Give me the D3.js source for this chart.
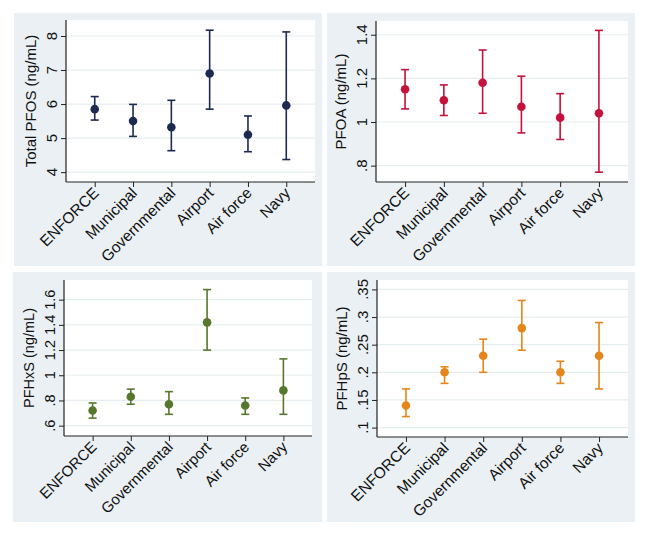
<!DOCTYPE html>
<html>
<head>
<meta charset="utf-8">
<script src="https://cdn.jsdelivr.net/npm/d3@7"></script>
<style>
  body { margin: 0; background: #fff; }
  svg { display: block; font-family: "Liberation Sans", Arial, sans-serif; }
</style>
</head>
<body>
<div id="chart"></div>
<script>
// categories shared by every panel
const categories = ["ENFORCE", "Municipal", "Governmental", "Airport", "Air force", "Navy"];

// Total PFOS
const pfosMean = [5.85, 5.50, 5.32, 6.90, 5.10, 5.96];
const pfosLow  = [5.53, 5.05, 4.63, 5.85, 4.60, 4.37];
const pfosHigh = [6.22, 5.99, 6.11, 8.17, 5.65, 8.12];
const pfosTicks = [4, 5, 6, 7, 8];

// PFOA
const pfoaMean = [1.15, 1.10, 1.18, 1.07, 1.02, 1.04];
const pfoaLow  = [1.06, 1.03, 1.04, 0.95, 0.92, 0.77];
const pfoaHigh = [1.24, 1.17, 1.33, 1.21, 1.13, 1.42];
const pfoaTicks = [0.8, 1, 1.2, 1.4];

// PFHxS
const pfhxsMean = [0.72, 0.83, 0.77, 1.42, 0.76, 0.88];
const pfhxsLow  = [0.66, 0.77, 0.69, 1.20, 0.69, 0.69];
const pfhxsHigh = [0.78, 0.89, 0.87, 1.68, 0.82, 1.13];
const pfhxsTicks = [0.6, 0.8, 1, 1.2, 1.4, 1.6];

// PFHpS
const pfhpsMean = [0.14, 0.20, 0.23, 0.28, 0.20, 0.23];
const pfhpsLow  = [0.12, 0.18, 0.20, 0.24, 0.18, 0.17];
const pfhpsHigh = [0.17, 0.21, 0.26, 0.33, 0.22, 0.29];
const pfhpsTicks = [0.1, 0.15, 0.2, 0.25, 0.3, 0.35];

const panels = [
  {title: "Total PFOS (ng/mL)", mean: pfosMean, low: pfosLow, high: pfosHigh, ticks: pfosTicks,
   domain: [3.71, 8.47], color: "#1d2a50", fs: 15.5,
   box: {x: 14, y: 13, w: 308, h: 253}, plot: {x: 66, y: 20, w: 249, h: 162}},
  {title: "PFOA (ng/mL)", mean: pfoaMean, low: pfoaLow, high: pfoaHigh, ticks: pfoaTicks,
   domain: [0.725, 1.463], color: "#c4123c", fs: 15.5,
   box: {x: 327, y: 13, w: 308, h: 253}, plot: {x: 376, y: 21, w: 252, h: 161}},
  {title: "PFHxS (ng/mL)", mean: pfhxsMean, low: pfhxsLow, high: pfhxsHigh, ticks: pfhxsTicks,
   domain: [0.518, 1.756], color: "#56782c", fs: 15,
   box: {x: 13, y: 272, w: 309, h: 250}, plot: {x: 64, y: 280, w: 248, h: 156}},
  {title: "PFHpS (ng/mL)", mean: pfhpsMean, low: pfhpsLow, high: pfhpsHigh, ticks: pfhpsTicks,
   domain: [0.083, 0.367], color: "#e5861c", fs: 15.5,
   box: {x: 327, y: 272, w: 308, h: 250}, plot: {x: 377, y: 280, w: 251, h: 157}}
];

// Stata style: drop leading zero
const fmt = v => String(+v.toFixed(2)).replace(/^0\./, ".");

const svg = d3.select("#chart").append("svg")
  .attr("width", 652)
  .attr("height", 535);

panels.forEach(p => {
  const g = svg.append("g");

  g.append("rect")
    .attr("x", p.box.x).attr("y", p.box.y)
    .attr("width", p.box.w).attr("height", p.box.h)
    .attr("fill", "#eaf0f3");

  g.append("rect")
    .attr("x", p.plot.x).attr("y", p.plot.y)
    .attr("width", p.plot.w).attr("height", p.plot.h)
    .attr("fill", "#fff");

  const x = d3.scalePoint()
    .domain(categories)
    .range([p.plot.x, p.plot.x + p.plot.w])
    .padding(0.75);

  const y = d3.scaleLinear()
    .domain(p.domain)
    .range([p.plot.y + p.plot.h, p.plot.y]);

  // grid lines
  g.selectAll(".grid")
    .data(p.ticks)
    .enter().append("line")
    .attr("x1", p.plot.x).attr("x2", p.plot.x + p.plot.w)
    .attr("y1", d => y(d)).attr("y2", d => y(d))
    .attr("stroke", "#e6edf0")
    .attr("stroke-width", 1.2);

  // y axis
  const yAxis = g.append("g")
    .attr("transform", `translate(${p.plot.x},0)`)
    .call(d3.axisLeft(y).tickValues(p.ticks).tickSize(5).tickSizeOuter(0).tickFormat(""));
  yAxis.select(".domain").attr("stroke", "#222").attr("stroke-width", 1.2)
    .attr("d", `M0,${p.plot.y}V${p.plot.y + p.plot.h}`);
  yAxis.selectAll(".tick line").attr("stroke", "#222");

  g.selectAll(".ylab")
    .data(p.ticks)
    .enter().append("text")
    .attr("transform", d => `translate(${p.plot.x - 9},${y(d)}) rotate(-90)`)
    .attr("text-anchor", "middle")
    .attr("font-size", (p.fs - 0.5) + "px")
    .attr("fill", "#111")
    .text(fmt);

  g.append("text")
    .attr("transform", `translate(${p.plot.x - 30},${p.plot.y + p.plot.h / 2}) rotate(-90)`)
    .attr("text-anchor", "middle")
    .attr("font-size", (p.fs - 0.5) + "px")
    .attr("fill", "#111")
    .text(p.title);

  // x axis
  const xAxis = g.append("g")
    .attr("transform", `translate(0,${p.plot.y + p.plot.h})`)
    .call(d3.axisBottom(x).tickSize(5).tickSizeOuter(0).tickFormat(""));
  xAxis.select(".domain").attr("stroke", "#222").attr("stroke-width", 1.2)
    .attr("d", `M${p.plot.x},0H${p.plot.x + p.plot.w}`);
  xAxis.selectAll(".tick line").attr("stroke", "#222");

  g.selectAll(".xlab")
    .data(categories)
    .enter().append("text")
    .attr("transform", d => `translate(${x(d) + 5},${p.plot.y + p.plot.h + 12}) rotate(-45)`)
    .attr("text-anchor", "end")
    .attr("font-size", p.fs + "px")
    .attr("fill", "#111")
    .text(d => d);

  // error bars
  const idx = d3.range(categories.length);
  const bars = g.selectAll(".bar")
    .data(idx)
    .enter().append("g");

  bars.append("line")
    .attr("x1", i => x(categories[i])).attr("x2", i => x(categories[i]))
    .attr("y1", i => y(p.low[i])).attr("y2", i => y(p.high[i]))
    .attr("stroke", p.color).attr("stroke-width", 1.6);

  [p.low, p.high].forEach(arr => {
    bars.append("line")
      .attr("x1", i => x(categories[i]) - 4).attr("x2", i => x(categories[i]) + 4)
      .attr("y1", i => y(arr[i])).attr("y2", i => y(arr[i]))
      .attr("stroke", p.color).attr("stroke-width", 1.6);
  });

  bars.append("circle")
    .attr("cx", i => x(categories[i]))
    .attr("cy", i => y(p.mean[i]))
    .attr("r", 4.3)
    .attr("fill", p.color);
});
</script>
</body>
</html>
